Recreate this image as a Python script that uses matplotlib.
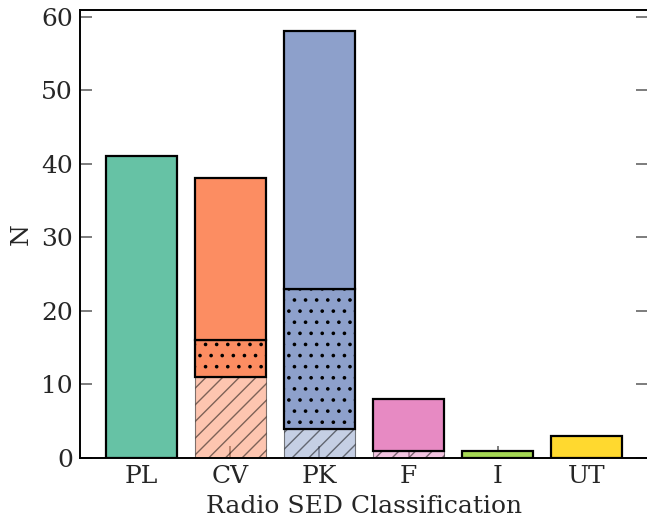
import matplotlib
matplotlib.use("Agg")
import matplotlib.pyplot as plt
import numpy as np

categories = ['PL', 'CV', 'PK', 'F', 'I', 'UT']
lower = [0, 11, 4, 1, 0, 0]      # hatched, light
mid = [0, 5, 19, 0, 0, 0]        # dotted
upper = [41, 22, 35, 7, 1, 3]    # solid
colors = ['#66c2a5', '#fc8d62', '#8da0cb', '#e78ac3', '#a6d854', '#ffd92f']

plt.rcParams['font.family'] = ['DejaVu Serif']
plt.rcParams['hatch.linewidth'] = 0.5
plt.rcParams['axes.axisbelow'] = True

fig = plt.figure(figsize=(6.47 / 2, 5.18 / 2), dpi=200)
ax = fig.add_axes([80 / 647, 60 / 518, 568 / 647, 448 / 518])

x = np.arange(len(categories))
lower = np.array(lower, float)
mid = np.array(mid, float)
upper = np.array(upper, float)

m = lower > 0
ax.bar(x[m], lower[m], width=0.8, color=[colors[i] for i in x[m]], alpha=0.5,
       edgecolor='black', linewidth=0.4, hatch='////')
m = mid > 0
ax.bar(x[m], mid[m], bottom=lower[m], width=0.8, color=[colors[i] for i in x[m]],
       edgecolor='black', linewidth=0.8, hatch='...')
ax.bar(x, upper, bottom=lower + mid, width=0.8, color=colors,
       edgecolor='black', linewidth=0.8)

ax.set_xticks(x)
ax.set_xticklabels(categories)
ax.set_yticks([0, 10, 20, 30, 40, 50, 60])
ax.set_ylabel('N', fontsize=9, color='0.15', labelpad=3)
ax.set_xlabel('Radio SED Classification', fontsize=9, color='0.15', labelpad=2.5)
ax.tick_params(axis='both', direction='in', length=4.3, width=0.6, color='0.4',
               labelsize=9, labelcolor='0.15', pad=2.5)
ax.tick_params(axis='y', right=True)
for s in ax.spines.values():
    s.set_linewidth(0.7)
    s.set_color('black')

fig.savefig('out.png', dpi=200)
